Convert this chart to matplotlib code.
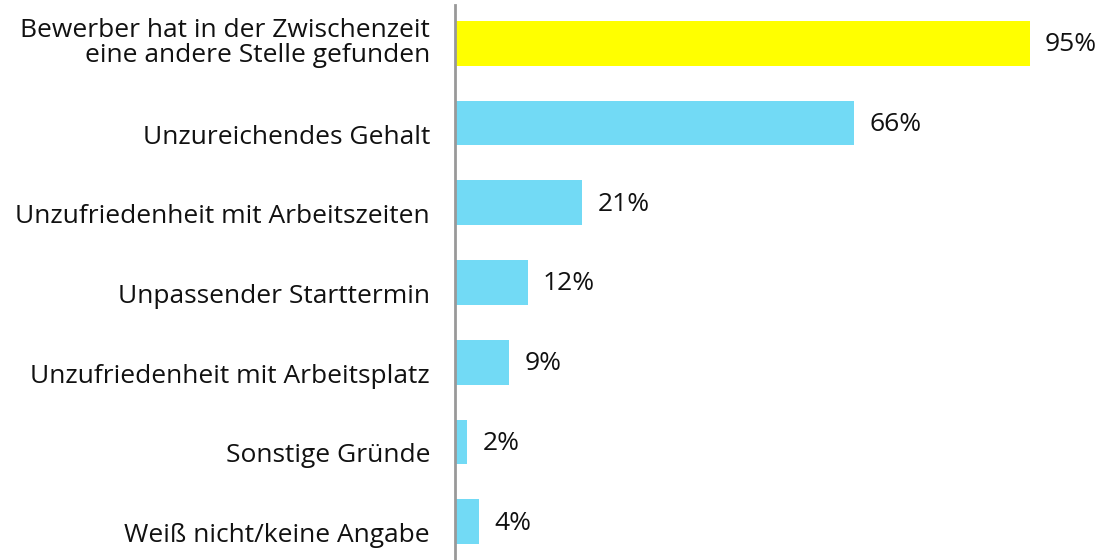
import matplotlib.pyplot as plt
from matplotlib.transforms import ScaledTranslation, blended_transform_factory

plt.rcParams['font.family'] = ['Open Sans', 'DejaVu Sans']

# Data
categories = [
    'Bewerber hat in der Zwischenzeit\neine andere Stelle gefunden',
    'Unzureichendes Gehalt',
    'Unzufriedenheit mit Arbeitszeiten',
    'Unpassender Starttermin',
    'Unzufriedenheit mit Arbeitsplatz',
    'Sonstige Gründe',
    'Weiß nicht/keine Angabe',
]
values = [95, 66, 21, 12, 9, 2, 4]
colors = ['#ffff00'] + ['#72daf5'] * 6

fig = plt.figure(figsize=(11.01, 5.6), dpi=100)
ax = fig.add_axes([455 / 1101, 0, 646 / 1101, 555 / 560])

positions = range(len(categories))
ax.barh(positions, values, height=0.56, color=colors)

for y, v in zip(positions, values):
    ax.annotate(f'{v}%', (v, y), xytext=(11, -1), textcoords='offset points',
                va='center', ha='left', fontsize=19, color='#111111')

# category labels (single-line ones sit a bit below the bar centre)
base = blended_transform_factory(ax.transAxes, ax.transData)
for y, cat in zip(positions, categories):
    dy = 0 if '\n' in cat else -14
    tr = base + ScaledTranslation(-25 / 100, dy / 100, fig.dpi_scale_trans)
    ax.text(0, y, cat, transform=tr, ha='right', va='center', fontsize=19,
            color='#111111', linespacing=1.0, multialignment='right')

ax.set_yticks([])
ax.set_xticks([])
ax.set_xlim(0, 106.8)
ax.set_ylim(6.48, -0.48)

for side in ['top', 'right', 'bottom']:
    ax.spines[side].set_visible(False)
ax.spines['left'].set_color('#999999')
ax.spines['left'].set_linewidth(2)

fig.savefig('out.png', dpi=100)
